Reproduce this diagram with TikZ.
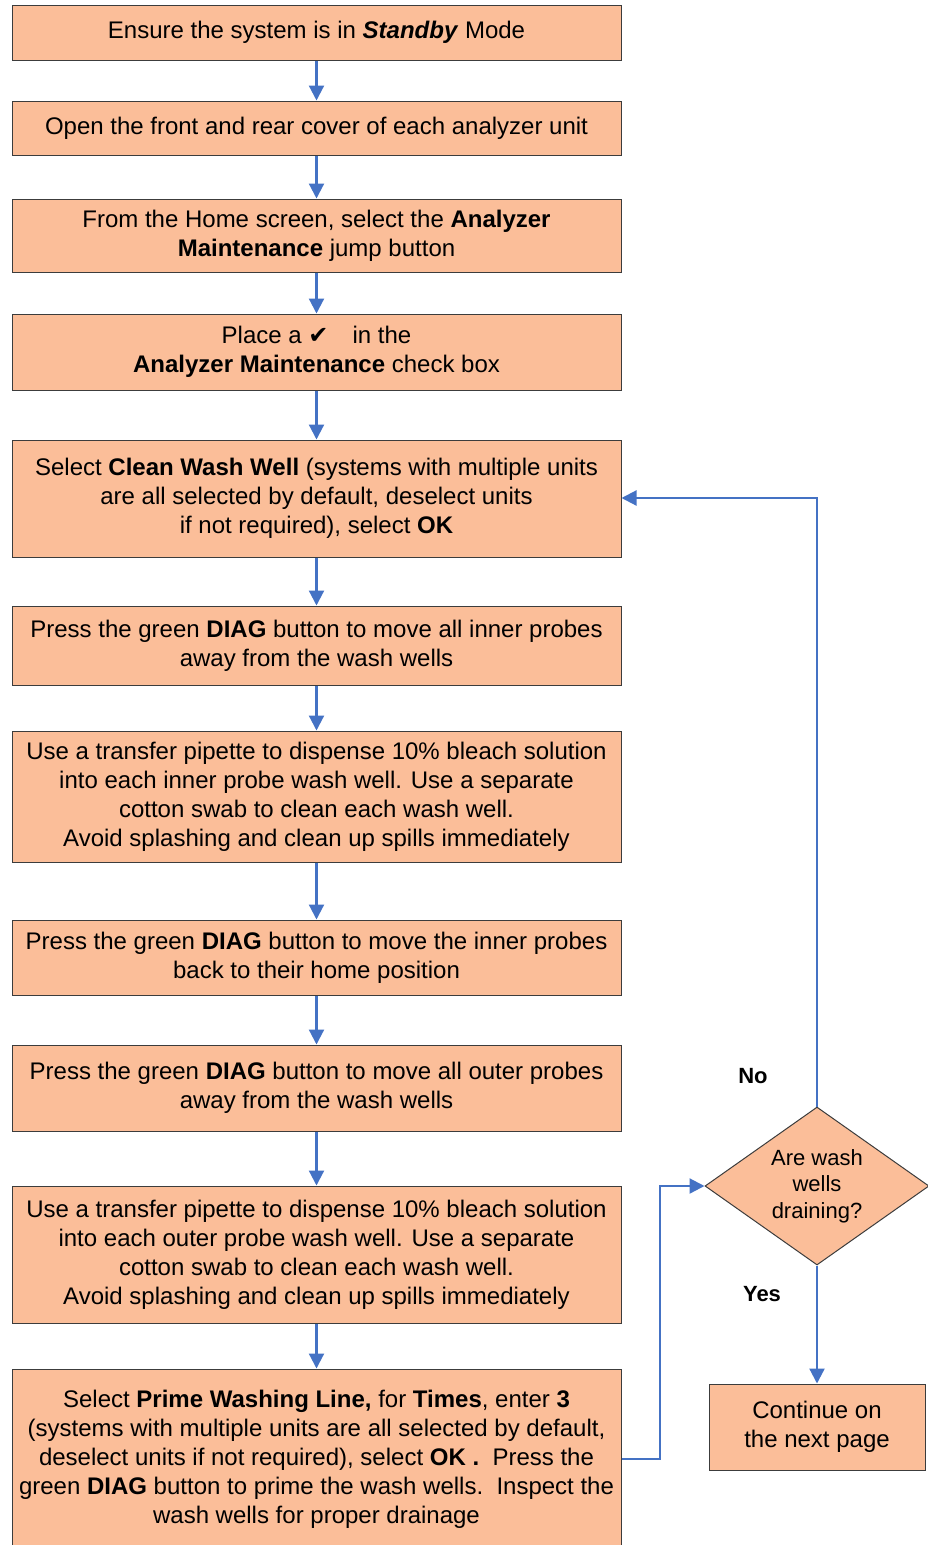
\documentclass[tikz,border=0pt]{standalone}
\usepackage{fontspec}
\setmainfont{Liberation Sans}
\newfontfamily\symfont{DejaVu Sans}
\usetikzlibrary{arrows.meta,shapes.geometric}
\definecolor{boxfill}{RGB}{251,190,153}
\definecolor{arrowblue}{RGB}{68,114,196}
\definecolor{boxline}{RGB}{60,60,60}
\tikzset{
  stepbox/.style={draw=boxline, line width=1pt, fill=boxfill, rectangle, minimum width=609pt, inner sep=0pt, align=center, font=\fontsize{24}{29}\selectfont, text=black},
  decbox/.style={draw=boxline, line width=1pt, fill=boxfill, diamond, minimum width=224pt, minimum height=158pt, inner sep=-14pt, align=center, font=\fontsize{22}{26.5}\selectfont},
  flow/.style={draw=arrowblue, line width=2.2pt, -{Triangle[length=15pt,width=15pt]}},
  lbl/.style={font=\fontsize{22}{26}\selectfont\bfseries}
}
\begin{document}
\begin{tikzpicture}[x=1pt,y=-1pt]
\useasboundingbox (0,0) rectangle (928,1545);
\node[stepbox, minimum height=55pt] (b1) at (316.5,32.5) {Ensure the system is in \textbf{\textit{Standby}} Mode};
\node[stepbox, minimum height=54pt] (b2) at (316.5,128) {Open the front and rear cover of each analyzer unit};
\node[stepbox, minimum height=73pt] (b3) at (316.5,235.5) {From the Home screen, select the \textbf{Analyzer}\\\textbf{Maintenance} jump button};
\node[stepbox, minimum height=76pt] (b4) at (316.5,352) {Place a {\symfont ✔}\quad in the\\\textbf{Analyzer Maintenance} check box};
\node[stepbox, minimum height=117pt] (b5) at (316.5,498.5) {Select \textbf{Clean Wash Well} (systems with multiple units\\are all selected by default, deselect units\\if not required), select \textbf{OK}};
\node[stepbox, minimum height=79pt] (b6) at (316.5,645.5) {Press the green \textbf{DIAG} button to move all inner probes\\away from the wash wells};
\node[stepbox, minimum height=131pt] (b7) at (316.5,796.5) {Use a transfer pipette to dispense 10\% bleach solution\\into each inner probe wash well. Use a separate\\cotton swab to clean each wash well.\\Avoid splashing and clean up spills immediately};
\node[stepbox, minimum height=75pt] (b8) at (316.5,957.5) {Press the green \textbf{DIAG} button to move the inner probes\\back to their home position};
\node[stepbox, minimum height=86pt] (b9) at (316.5,1088) {Press the green \textbf{DIAG} button to move all outer probes\\away from the wash wells};
\node[stepbox, minimum height=137pt] (b10) at (316.5,1254.5) {Use a transfer pipette to dispense 10\% bleach solution\\into each outer probe wash well. Use a separate\\cotton swab to clean each wash well.\\Avoid splashing and clean up spills immediately};
\node[stepbox, minimum height=180pt] (b11) at (316.5,1459) {Select \textbf{Prime Washing Line,} for \textbf{Times}, enter \textbf{3}\\(systems with multiple units are all selected by default,\\deselect units if not required), select \textbf{OK .}\ \ Press the\\green \textbf{DIAG} button to prime the wash wells.\ \ Inspect the\\wash wells for proper drainage};
\node[decbox] (d) at (817,1186) {Are wash\\wells\\draining?};
\node[stepbox, minimum width=216pt, minimum height=86pt] (c) at (817,1427) {Continue on\\the next page};
\node[lbl] (no) at (753,1076) {No};
\node[lbl] (yes) at (762,1294) {Yes};
\coordinate (r1) at (817,498);
\coordinate (r2) at (660,1459);
\coordinate (r3) at (660,1186);
\draw[flow] (b1) -- (b2);
\draw[flow] (b2) -- (b3);
\draw[flow] (b3) -- (b4);
\draw[flow] (b4) -- (b5);
\draw[flow] (b5) -- (b6);
\draw[flow] (b6) -- (b7);
\draw[flow] (b7) -- (b8);
\draw[flow] (b8) -- (b9);
\draw[flow] (b9) -- (b10);
\draw[flow] (b10) -- (b11);
\draw[flow] (d.north) -- (r1) -- (b5.east |- r1);
\draw[flow] (b11.east |- r2) -- (r2) -- (r3) -- (d.west);
\draw[flow] (d.south) -- (c.north);
\end{tikzpicture}
\end{document}
